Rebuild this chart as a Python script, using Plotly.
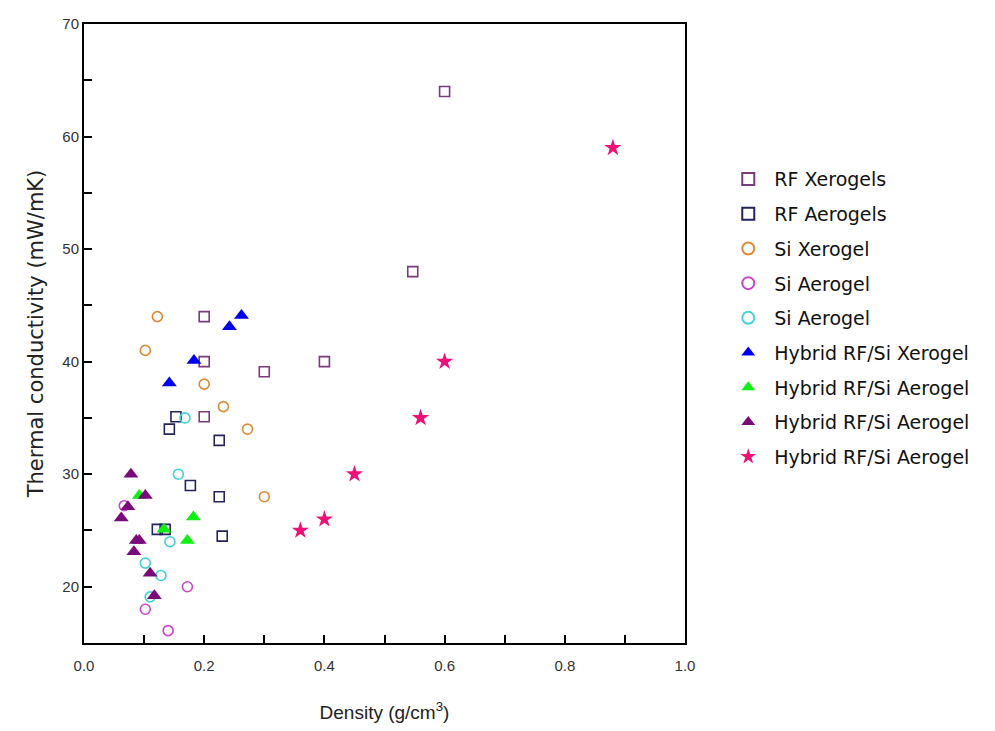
import plotly.graph_objects as go

# ---- data (density g/cm3, thermal conductivity mW/mK) ----
rfx_x = [0.60, 0.547, 0.20, 0.20, 0.30, 0.40, 0.20]
rfx_y = [64, 48, 44, 40, 39.1, 40, 35.1]

rfa_x = [0.153, 0.142, 0.225, 0.177, 0.225, 0.122, 0.135, 0.23]
rfa_y = [35.1, 34, 33, 29, 28, 25.1, 25.1, 24.5]

six_x = [0.122, 0.102, 0.20, 0.232, 0.272, 0.30]
six_y = [44, 41, 38, 36, 34, 28]

sia1_x = [0.067, 0.172, 0.102, 0.14]
sia1_y = [27.2, 20, 18, 16.1]

sia2_x = [0.168, 0.157, 0.143, 0.102, 0.128, 0.11]
sia2_y = [35, 30, 24, 22.1, 21, 19.1]

hx_x = [0.262, 0.242, 0.183, 0.142]
hx_y = [44.1, 43.1, 40.1, 38.1]

hg_x = [0.092, 0.133, 0.182, 0.172]
hg_y = [28.1, 25.1, 26.2, 24.1]

hp_x = [0.078, 0.102, 0.073, 0.062, 0.087, 0.092, 0.083, 0.11, 0.117]
hp_y = [30, 28.1, 27.1, 26.1, 24.1, 24.1, 23.1, 21.2, 19.2]

hs_x = [0.88, 0.60, 0.56, 0.45, 0.40, 0.36]
hs_y = [59, 40, 35, 30, 26, 25]

names = ["RF Xerogels", "RF Aerogels", "Si Xerogel", "Si Aerogel", "Si Aerogel",
         "Hybrid RF/Si Xerogel", "Hybrid RF/Si Aerogel", "Hybrid RF/Si Aerogel",
         "Hybrid RF/Si Aerogel"]

fig = go.Figure()

def add(x, y, name, symbol, color, size, group, open_=False):
    if open_:
        marker = dict(symbol=symbol, size=size, color=color,
                      line=dict(color=color, width=1.6))
    else:
        marker = dict(symbol=symbol, size=size, color=color, line=dict(width=0))
    fig.add_trace(go.Scatter(x=x, y=y, mode="markers", name=name, marker=marker,
                             legendgroup=group))

add(rfx_x, rfx_y, names[0], "square-open", "#7b3a7e", 10, "g0", True)
add(rfa_x, rfa_y, names[1], "square-open", "#23235e", 10, "g1", True)
add(six_x, six_y, names[2], "circle-open", "#df8a35", 10, "g2", True)
add(sia1_x, sia1_y, names[3], "circle-open", "#cc44cc", 10, "g3", True)
add(sia2_x, sia2_y, names[4], "circle-open", "#3fd3d8", 10, "g4", True)
add(hx_x, hx_y, names[5], "triangle-up", "#0000f0", 13, "g5")
add(hg_x, hg_y, names[6], "triangle-up", "#11ee11", 13, "g6")
add(hp_x, hp_y, names[7], "triangle-up", "#7a0a7a", 13, "g7")
add(hs_x, hs_y, names[8], "star", "#ee1177", 13, "g8")

axis_common = dict(
    showline=True, linecolor="black", linewidth=2, mirror=True,
    ticks="inside", ticklen=8, tickwidth=2, tickcolor="black",
    showgrid=False, zeroline=False, automargin=False,
    tickfont=dict(family="Liberation Sans, Arial", size=15, color="#333333"),
)

fig.update_xaxes(
    range=[0, 1.0], dtick=0.2, tickformat=".1f", ticklabelstandoff=8,
    minor=dict(dtick=0.1, ticks="inside", ticklen=8, tickwidth=2, tickcolor="black"),
    title=dict(text="Density (g/cm<sup>3</sup>)", standoff=36,
               font=dict(family="Liberation Sans, Arial", size=19, color="#222222")),
    **axis_common,
)
fig.update_yaxes(
    range=[15, 70], dtick=10, tick0=0,
    minor=dict(dtick=5, ticks="inside", ticklen=8, tickwidth=2, tickcolor="black"),
    title=dict(text="Thermal conductivity (mW/mK)", standoff=13,
               font=dict(family="DejaVu Sans", size=21, color="#222222")),
    **axis_common,
)

fig.update_layout(
    width=979, height=715,
    margin=dict(l=76, r=302, t=16, b=80),
    plot_bgcolor="white", paper_bgcolor="white",
    legend=dict(x=1.062, y=0.78, xanchor="left", yanchor="top",
                font=dict(family="DejaVu Sans", size=19, color="#111111"),
                itemsizing="constant", itemwidth=42, tracegroupgap=7,
                bgcolor="rgba(0,0,0,0)"),
)

fig.write_html("out.html")
